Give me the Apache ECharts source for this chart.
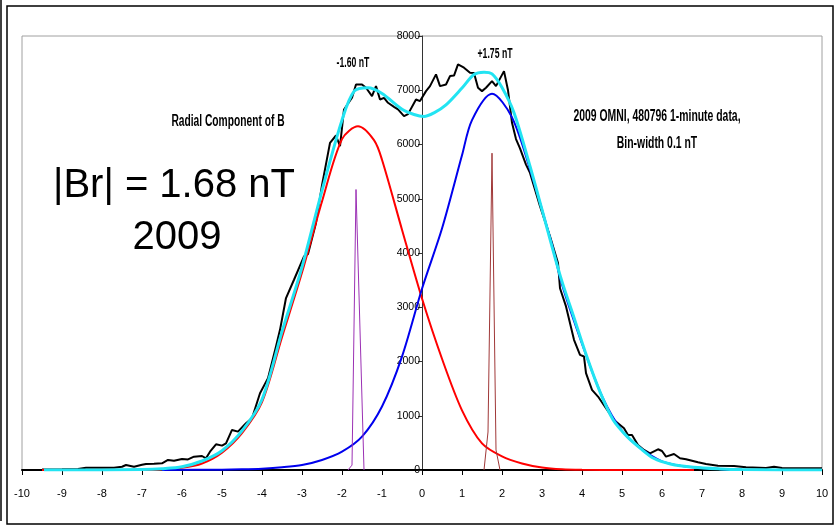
<!DOCTYPE html>
<html>
<head>
<meta charset="utf-8">
<script src="https://cdn.jsdelivr.net/npm/echarts@6/dist/echarts.min.js"></script>
<style>
  html, body { margin: 0; padding: 0; background: #fff; }
  #chart { width: 840px; height: 526px; }
</style>
</head>
<body>
<div id="chart"></div>
<script>
// 2009 OMNI Br histogram, 0.1 nT bins  [Br (nT), count]
var histCounts = [
  [-9.5, 10], [-9, 15], [-8.6, 20], [-8.4, 43], [-8, 40], [-7.7, 43], [-7.5, 60], [-7.4, 92],
  [-7.2, 61], [-7, 95], [-6.9, 111], [-6.7, 115], [-6.5, 123], [-6.35, 185], [-6.2, 170],
  [-6, 203], [-5.85, 195], [-5.7, 246], [-5.5, 258], [-5.4, 216], [-5.3, 338], [-5.15, 474],
  [-5, 449], [-4.9, 492], [-4.75, 738], [-4.6, 707], [-4.4, 862], [-4.25, 954], [-4.05, 1416],
  [-3.85, 1693], [-3.65, 2276], [-3.55, 2584], [-3.4, 3170], [-3.2, 3507], [-2.95, 3938],
  [-2.85, 3980], [-2.65, 4554], [-2.5, 5250], [-2.3, 6031], [-2.15, 6166], [-2.05, 5968],
  [-1.95, 6646], [-1.75, 6861], [-1.65, 7107], [-1.5, 7107], [-1.4, 7046], [-1.25, 6892],
  [-1.15, 7076], [-1.05, 6830], [-0.95, 6860], [-0.85, 6769], [-0.7, 6695], [-0.6, 6646],
  [-0.45, 6522], [-0.35, 6560], [-0.3, 6584], [-0.15, 6830], [-0.05, 6800], [0.1, 6984],
  [0.2, 7076], [0.35, 7292], [0.45, 7076], [0.6, 7107], [0.7, 7261], [0.8, 7270], [0.9, 7476],
  [0.95, 7507], [1.05, 7415], [1.1, 7445], [1.2, 7323], [1.3, 7320], [1.4, 7046], [1.5, 6984],
  [1.6, 7046], [1.75, 7169], [1.85, 7076], [2.05, 7353], [2.15, 7000], [2.25, 6400],
  [2.35, 6100], [2.45, 5930], [2.6, 5630], [2.7, 5477], [2.95, 4861], [3.2, 4307], [3.4, 3815],
  [3.45, 3350], [3.6, 3015], [3.8, 2400], [3.95, 2123], [4.05, 2092], [4.1, 1785], [4.25, 1477],
  [4.4, 1354], [4.6, 1139], [4.8, 923], [5.05, 769], [5.15, 646], [5.25, 646], [5.4, 461],
  [5.55, 369], [5.7, 308], [5.9, 382], [6, 350], [6.1, 246], [6.3, 295], [6.45, 216], [6.6, 197],
  [6.9, 142], [7.1, 111], [7.4, 80], [7.8, 74], [8.1, 50], [8.6, 37], [8.8, 61], [9, 37],
  [9.5, 30], [10, 30]
];

// fitted gaussians
var negFit = [
  [-9.5, 0], [-7, 0], [-6.5, 10], [-6, 40], [-5.5, 120], [-5, 320], [-4.5, 680], [-4, 1250],
  [-3.5, 2450], [-3, 3640], [-2.5, 4950], [-2, 6100], [-1.6, 6335], [-1.2, 6080], [-1, 5720],
  [-0.5, 4430], [0, 3160], [0.5, 2050], [1, 1100], [1.5, 490], [2, 250], [2.5, 120], [3, 45],
  [3.5, 12], [4, 3], [5, 0], [6.8, 0]
];
var posFit = [
  [-6.5, 0], [-5, 5], [-4.5, 12], [-4, 25], [-3.5, 50], [-3, 92], [-2.5, 185], [-2, 338],
  [-1.5, 615], [-1, 1170], [-0.5, 2090], [0, 3340], [0.5, 4450], [1, 5800], [1.25, 6450],
  [1.75, 6935], [2.25, 6500], [2.75, 5420], [3.25, 4150], [3.5, 3420], [4, 2330], [4.5, 1360],
  [5, 720], [5.5, 380], [6, 160], [6.5, 75], [7, 35], [7.5, 15], [8, 5], [9, 0], [10, 0]
];
var sumFit = [
  [-9.45, 0], [-8, 0], [-7, 8], [-6.5, 25], [-6, 61], [-5.5, 166], [-5, 356], [-4.5, 720],
  [-4, 1300], [-3.5, 2550], [-3, 3740], [-2.5, 5150], [-2, 6450], [-1.7, 6980], [-1.35, 7046],
  [-1, 6940], [-0.5, 6650], [-0.2, 6553], [0.05, 6516], [0.3, 6584], [0.6, 6730], [1, 7040],
  [1.3, 7290], [1.55, 7334], [1.75, 7300], [2, 7050], [2.3, 6585], [2.7, 5600], [3, 4800],
  [3.46, 3569], [3.79, 2830], [4.12, 2092], [4.46, 1421], [4.78, 923], [5.13, 615], [5.46, 400],
  [5.79, 216], [6.21, 111], [6.79, 50], [7.46, 20], [8, 8], [9, 2], [10, 0]
];

// peak markers
var negPeak = [[-1.85, 0], [-1.75, 90], [-1.65, 5170], [-1.45, 0]];
var posPeak = [[1.55, 0], [1.65, 700], [1.75, 5840], [1.85, 370], [1.95, 0]];

var sans = '"Liberation Sans", Arial, sans-serif';

var chart = echarts.init(document.getElementById('chart'));

function lineSeries(data, color, width, smooth, z) {
  return {
    type: 'line',
    data: data,
    symbol: 'none',
    smooth: smooth,
    z: z,
    silent: true,
    lineStyle: { color: color, width: width }
  };
}

// squeezed bold label, like the narrow font in the original
function note(x, y, text, size, squeeze) {
  return {
    type: 'text', x: x, y: y, scaleX: squeeze, silent: true,
    style: { text: text, align: 'center', verticalAlign: 'middle',
      font: 'bold ' + size + 'px ' + sans, fill: '#000' }
  };
}

chart.setOption({
  animation: false,
  backgroundColor: '#fff',
  grid: {
    left: 22, right: 18, top: 36, bottom: 56,
    show: true, borderColor: '#a0a0a0', borderWidth: 1
  },
  xAxis: {
    type: 'value',
    min: -10, max: 10, interval: 1,
    axisLine: { lineStyle: { color: '#000', width: 2 } },
    axisTick: { length: 5, lineStyle: { color: '#000' } },
    axisLabel: { margin: 18, color: '#000', fontSize: 11, fontFamily: sans },
    splitLine: { show: false }
  },
  yAxis: {
    type: 'value',
    position: 'left',
    offset: -400,
    min: 0, max: 8000, interval: 1000,
    axisLine: { show: true, onZero: false, lineStyle: { color: '#333', width: 1 } },
    axisTick: { show: true, length: 4, lineStyle: { color: '#333' } },
    axisLabel: { margin: 2, color: '#000', fontSize: 10.5, fontFamily: sans,
      formatter: function (v) { return String(v); } },
    splitLine: { show: false }
  },
  series: [
    lineSeries(histCounts, '#000', 2, false, 2),
    lineSeries(negFit, '#ff0000', 2, 0.3, 3),
    lineSeries(posFit, '#0000ee', 2, 0.3, 4),
    lineSeries(sumFit, '#22e4f2', 3, 0.3, 5),
    lineSeries(negPeak, '#9b30b4', 1, false, 6),
    lineSeries(posPeak, '#a03838', 1, false, 6)
  ],
  graphic: [
    { type: 'rect', shape: { x: 7, y: 6, width: 826, height: 518 },
      style: { fill: 'none', stroke: '#000', lineWidth: 1.5 }, silent: true },
    { type: 'line', shape: { x1: 1, y1: 0, x2: 1, y2: 521 },
      style: { stroke: '#000', lineWidth: 1.5 }, silent: true },
    note(353, 63, '-1.60 nT', 14, 0.62),
    note(495, 54, '+1.75 nT', 14, 0.62),
    note(228, 122, 'Radial Component of B', 16, 0.64),
    note(657, 117, '2009 OMNI, 480796 1-minute data,', 16, 0.65),
    note(657, 144, 'Bin-width 0.1 nT', 16, 0.65),
    { type: 'text', style: { x: 174, y: 186, text: '|Br| = 1.68 nT', align: 'center', verticalAlign: 'middle',
      font: '40px ' + sans, fill: '#000' } },
    { type: 'text', style: { x: 177, y: 238, text: '2009', align: 'center', verticalAlign: 'middle',
      font: '40px ' + sans, fill: '#000' } }
  ]
});
</script>
</body>
</html>
